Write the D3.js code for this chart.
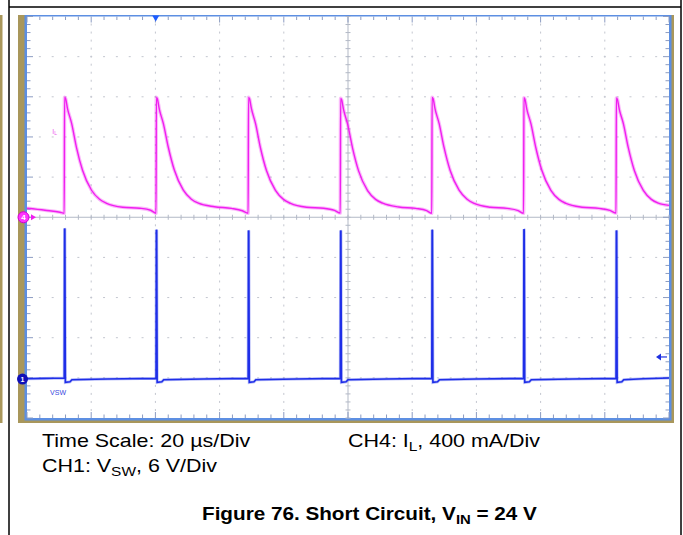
<!DOCTYPE html>
<html><head><meta charset="utf-8">
<script src="https://cdn.jsdelivr.net/npm/d3@7"></script>
<style>body{margin:0;background:#fff}svg{display:block}</style>
</head><body>
<svg id="c" width="683" height="535"></svg>
<script>
// ---------------- data ----------------
// CH4: inductor current I_L (mA) vs time (µs)
const ilTime = [0, 5.6, 10.3, 11.6,
  11.7, 12.0, 12.6, 13.9, 15.4, 17.3, 20.1, 22.6, 24.8, 29.8, 35.1, 38.5, 40.2,
  40.3, 40.6, 41.2, 42.5, 44.0, 45.9, 48.7, 51.2, 53.4, 58.4, 63.7, 67.1, 68.9,
  69.0, 69.3, 69.9, 71.2, 72.7, 74.6, 77.4, 79.9, 82.1, 87.1, 92.4, 95.8, 97.6,
  97.7, 98.0, 98.6, 99.9, 101.4, 103.3, 106.1, 108.6, 110.8, 115.8, 121.1, 124.5, 126.1,
  126.2, 126.5, 127.1, 128.4, 129.9, 131.8, 134.6, 137.1, 139.3, 144.3, 149.6, 153.0, 154.7,
  154.8, 155.1, 155.7, 157.0, 158.5, 160.4, 163.2, 165.7, 167.9, 172.9, 178.2, 181.6, 183.5,
  183.6, 183.9, 184.5, 185.8, 187.3, 189.2, 192.0, 194.5, 196.7, 200];
const ilMA = [90, 70, 50, 40,
  1194, 1184, 1085, 935, 697, 468, 269, 179, 139, 100, 90, 70, 40,
  1194, 1180, 1080, 930, 700, 470, 270, 180, 140, 105, 88, 65, 40,
  1194, 1182, 1084, 932, 695, 465, 268, 178, 138, 100, 90, 68, 42,
  1184, 1172, 1075, 925, 692, 462, 265, 178, 140, 102, 88, 66, 40,
  1194, 1182, 1082, 932, 698, 468, 270, 180, 138, 100, 88, 66, 40,
  1190, 1178, 1078, 930, 695, 465, 268, 178, 138, 100, 88, 68, 42,
  1188, 1176, 1078, 930, 696, 466, 268, 178, 140, 118];
// CH1: switch node voltage V_SW (V) vs time (µs)
const vswTime = [0, 5, 11.6,
  11.7, 11.8, 11.95, 13.4, 14.0, 25, 40.2,
  40.3, 40.4, 40.55, 42.0, 42.6, 55, 68.9,
  69.0, 69.1, 69.25, 70.7, 71.3, 84, 97.6,
  97.7, 97.8, 97.95, 99.4, 100.0, 112, 126.1,
  126.2, 126.3, 126.45, 127.9, 128.5, 140, 154.7,
  154.8, 154.9, 155.05, 156.5, 157.1, 170, 183.5,
  183.6, 183.7, 183.85, 185.3, 185.9, 192, 200];
const vswV = [0.05, 0.1, 0.15,
  22.5, 22.4, -0.5, -0.4, -0.1, 0.0, 0.1,
  22.3, 22.2, -0.5, -0.4, -0.1, 0.0, 0.1,
  22.2, 22.1, -0.5, -0.4, -0.1, 0.0, 0.1,
  22.2, 22.1, -0.5, -0.4, -0.1, 0.0, 0.1,
  22.3, 22.2, -0.5, -0.4, -0.1, 0.0, 0.1,
  22.4, 22.3, -0.5, -0.4, -0.1, 0.0, 0.1,
  22.2, 22.1, -0.5, -0.4, -0.1, 0.05, 0.15];
const timePerDiv = 20;      // µs/div
const ilPerDiv = 400;       // mA/div
const vPerDiv = 6;          // V/div
const divsX = 10, divsY = 10, minorPerDiv = 5;
const ch1OffsetDiv = -4.03; // CH1 ground position (divisions from centre)
const triggerTime = 40.1;   // µs
const triggerLevel = 3.3;   // V
const captionLines = [
  {x: 42, y: 447, parts: [["Time Scale: 20 µs/Div", null]]},
  {x: 42, y: 471.5, parts: [["CH1: V", null], ["SW", "sub"], [", 6 V/Div", null]]},
  {x: 348, y: 447, parts: [["CH4: I", null], ["L", "sub"], [", 400 mA/Div", null]]}
];
const titleParts = [["Figure 76. Short Circuit, V", null], ["IN", "sub"], [" = 24 V", null]];

// ---------------- drawing ----------------
const svg = d3.select("#c");
const L = 27, R = 669, T = 16.5, B = 418;
const xDiv = d3.scaleLinear([0, divsX], [L, R]);
const yDiv = d3.scaleLinear([-divsY/2, divsY/2], [B, T]);
const x = d3.scaleLinear([0, timePerDiv*divsX], [L, R]);
const yI = d3.scaleLinear([-ilPerDiv*divsY/2, ilPerDiv*divsY/2], [B, T]);
const yV = d3.scaleLinear([(-divsY/2 - ch1OffsetDiv)*vPerDiv, (divsY/2 - ch1OffsetDiv)*vPerDiv], [B, T]);

// outer document frame
const frame = svg.append("g").attr("stroke", "#000").attr("stroke-width", 1.5);
frame.append("line").attr("x1", 9).attr("x2", 9).attr("y1", 0).attr("y2", 535);
frame.append("line").attr("x1", 681).attr("x2", 681).attr("y1", 0).attr("y2", 535);
frame.append("line").attr("x1", 9).attr("x2", 681).attr("y1", 7).attr("y2", 7);

// sliver of neighbouring screenshot
svg.append("rect").attr("x", 0).attr("y", 15).attr("width", 2.5).attr("height", 408).attr("fill", "#a9975b");

// scope screen bezel
svg.append("rect").attr("x", 18).attr("y", 15).attr("width", 656).attr("height", 408).attr("fill", "#a9975b");
svg.append("rect").attr("x", 24.5).attr("y", 15).attr("width", 647).attr("height", 405.5).attr("fill", "#5d8fe2");
svg.append("rect").attr("x", L).attr("y", T).attr("width", R-L).attr("height", B-T).attr("fill", "#fff");

// grid dots
const g = svg.append("g");
const minorX = d3.range(0, divsX*minorPerDiv + 1).map(i => i/minorPerDiv);
const minorY = d3.range(-divsY/2*minorPerDiv, divsY/2*minorPerDiv + 1).map(i => i/minorPerDiv);
const dotCol = "#c3c6cf";
d3.range(1, divsX).filter(k => k !== divsX/2).forEach(k => {
  g.selectAll(null).data(minorY.slice(1, -1)).join("rect")
    .attr("x", xDiv(k) - 0.5).attr("y", d => yDiv(d) - 1).attr("width", 1).attr("height", 2).attr("fill", dotCol);
});
d3.range(-divsY/2 + 1, divsY/2).filter(k => k !== 0).forEach(k => {
  g.selectAll(null).data(minorX.slice(1, -1)).join("rect")
    .attr("x", d => xDiv(d) - 1).attr("y", yDiv(k) - 0.5).attr("width", 2).attr("height", 1).attr("fill", dotCol);
});
// centre cross
const cc = "#b3b9c6";
g.append("line").attr("x1", xDiv(divsX/2)).attr("x2", xDiv(divsX/2)).attr("y1", T).attr("y2", B).attr("stroke", cc);
g.append("line").attr("x1", L).attr("x2", R).attr("y1", yDiv(0)).attr("y2", yDiv(0)).attr("stroke", cc);
g.selectAll(null).data(minorY).join("line")
  .attr("x1", xDiv(divsX/2) - 2.5).attr("x2", xDiv(divsX/2) + 2.5)
  .attr("y1", d => yDiv(d)).attr("y2", d => yDiv(d)).attr("stroke", cc);
g.selectAll(null).data(minorX).join("line")
  .attr("y1", yDiv(0) - 2.5).attr("y2", yDiv(0) + 2.5)
  .attr("x1", d => xDiv(d)).attr("x2", d => xDiv(d)).attr("stroke", cc);
// edge ticks
const tc = "#8c9cc2";
const isMajor = d => Math.abs(d - Math.round(d)) < 1e-6;
g.selectAll(null).data(minorX).join("line").attr("stroke", tc)
  .attr("x1", d => xDiv(d)).attr("x2", d => xDiv(d)).attr("y1", T).attr("y2", d => T + (isMajor(d) ? 6 : 3.5));
g.selectAll(null).data(minorX).join("line").attr("stroke", tc)
  .attr("x1", d => xDiv(d)).attr("x2", d => xDiv(d)).attr("y1", B).attr("y2", d => B - (isMajor(d) ? 6 : 3.5));
g.selectAll(null).data(minorY).join("line").attr("stroke", tc)
  .attr("y1", d => yDiv(d)).attr("y2", d => yDiv(d)).attr("x1", L).attr("x2", d => L + (isMajor(d) ? 6 : 3.5));
g.selectAll(null).data(minorY).join("line").attr("stroke", tc)
  .attr("y1", d => yDiv(d)).attr("y2", d => yDiv(d)).attr("x1", R).attr("x2", d => R - (isMajor(d) ? 6 : 3.5));

// traces
svg.append("clipPath").attr("id", "pc").append("rect").attr("x", L).attr("y", T).attr("width", R-L).attr("height", B-T);
const tr = svg.append("g").attr("clip-path", "url(#pc)");
const ilData = ilTime.map((t, i) => [t, ilMA[i]]);
const vData = vswTime.map((t, i) => [t, vswV[i]]);
const lineI = d3.line().curve(d3.curveMonotoneX).x(d => x(d[0])).y(d => yI(d[1]));
const lineV = d3.line().x(d => x(d[0])).y(d => yV(d[1]));
const mag = "#f01ef0", blu = "#1e2ee8";
tr.append("path").datum(ilData).attr("d", lineI).attr("fill", "none").attr("stroke", mag).attr("stroke-width", 3.6).attr("stroke-opacity", 0.3);
tr.append("path").datum(ilData).attr("d", lineI).attr("fill", "none").attr("stroke", mag).attr("stroke-width", 1.4);
tr.append("path").datum(vData).attr("d", lineV).attr("fill", "none").attr("stroke", blu).attr("stroke-width", 3).attr("stroke-opacity", 0.3);
tr.append("path").datum(vData).attr("d", lineV).attr("fill", "none").attr("stroke", blu).attr("stroke-width", 1.6);

// channel labels in screen
svg.append("text").attr("x", x(7.9)).attr("y", yI(830)).attr("font-family", "Liberation Sans, Arial, sans-serif")
  .attr("font-size", 7).attr("fill", "#ee55ee").text("I").append("tspan").attr("font-size", 5).attr("dy", 1.5).text("L");
svg.append("text").attr("x", x(7.2)).attr("y", yV(-2.35)).attr("font-family", "Liberation Sans, Arial, sans-serif")
  .attr("font-size", 7).attr("fill", "#3848e0").text("VSW");

// channel ground markers
const m4y = yI(0), m1y = yV(0);
svg.append("path").attr("d", `M31,${m4y-3}L36,${m4y}L31,${m4y+3}Z`).attr("fill", mag);
svg.append("circle").attr("cx", 23.5).attr("cy", m4y).attr("r", 5.5).attr("fill", "#ff33ff").attr("stroke", "#d000d0");
svg.append("text").attr("x", 23.5).attr("y", m4y + 2.8).attr("text-anchor", "middle").attr("font-family", "Liberation Sans, Arial, sans-serif")
  .attr("font-size", 8).attr("font-weight", "bold").attr("fill", "#fff").text("4");
svg.append("circle").attr("cx", 22.5).attr("cy", m1y).attr("r", 5.5).attr("fill", "#1010b8");
svg.append("text").attr("x", 22.5).attr("y", m1y + 2.6).attr("text-anchor", "middle").attr("font-family", "Liberation Sans, Arial, sans-serif")
  .attr("font-size", 7).attr("font-weight", "bold").attr("fill", "#fff").text("1");

// trigger markers
const tx = x(triggerTime);
svg.append("path").attr("d", `M${tx-3.5},${T-1}L${tx+3.5},${T-1}L${tx},${T+5}Z`).attr("fill", "#1d5cff");
const ty = yV(triggerLevel);
svg.append("path").attr("d", `M656,${ty}L661,${ty-3.5}L661,${ty+3.5}Z`).attr("fill", "#1e30e0");
svg.append("line").attr("x1", 660).attr("x2", 667).attr("y1", ty).attr("y2", ty).attr("stroke", "#1e30e0").attr("stroke-width", 1.2);

// captions
function richText(sel, parts, size) {
  parts.forEach(([s, kind]) => {
    const ts = sel.append("tspan").text(s);
    if (kind === "sub") ts.attr("font-size", size*0.72).attr("dy", size*0.22);
    else if (sel.selectAll("tspan").size() > 1) ts.attr("dy", -size*0.22);
  });
}
captionLines.forEach(c => {
  const t = svg.append("text").attr("transform", `translate(${c.x},${c.y}) scale(1.16,1)`)
    .attr("font-family", "Liberation Sans, Arial, sans-serif").attr("font-size", 18.5).attr("fill", "#000");
  richText(t, c.parts, 18.5);
});
const tt = svg.append("text").attr("transform", `translate(202,520) scale(1.15,1)`)
  .attr("font-family", "Liberation Sans, Arial, sans-serif").attr("font-size", 18).attr("font-weight", "bold").attr("fill", "#000");
richText(tt, titleParts, 18);
</script>
</body></html>
